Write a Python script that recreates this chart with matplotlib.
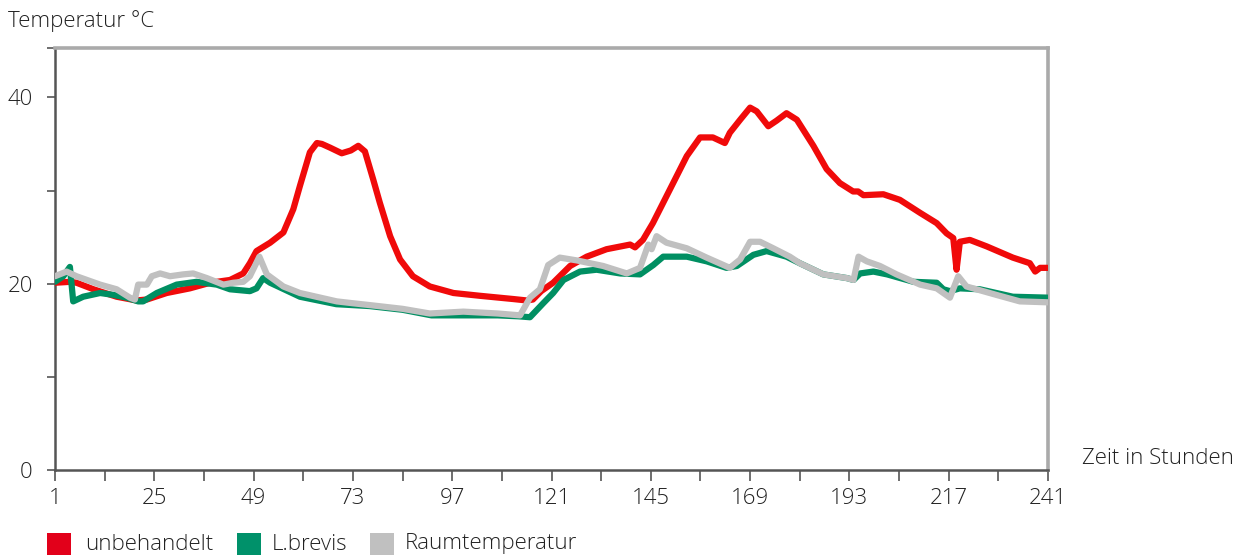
import matplotlib
matplotlib.use("Agg")
import matplotlib.pyplot as plt
from matplotlib.patches import Rectangle

plt.rcParams['font.family'] = ['Open Sans', 'DejaVu Sans']
plt.rcParams['font.weight'] = 'light'

# ---- data ----
red_h = [1, 4.6, 6.2, 10.3, 15.9, 20.7, 23.2, 28, 33.6, 38.5, 43.3, 46.5, 48.1, 49.7, 53, 56.2, 58.6,
         60.2, 62.6, 64.3, 65.5, 67.5, 70.3, 72.5, 74.3, 75.9, 77.9, 79.5, 82.0, 84.4, 87.5, 91.6,
         97.3, 103.7, 111.8, 115.0, 116.5, 118.5, 121.4, 125.5, 129.5, 134.3, 140.0, 141.2, 143.1,
         145.5, 149.6, 153.7, 156.9, 160.0, 162.9, 164.1, 166.6, 169.0, 170.6, 173.4, 175.4, 177.8,
         180.3, 184.3, 187.5, 190.7, 193.9, 195.1, 196.4, 201.2, 205.2, 210.1, 214.1, 216.5, 218.1,
         218.9, 219.7, 222.1, 226.2, 232.5, 236.6, 237.9, 239.1, 241]
red_t = [20.1, 20.2, 20.1, 19.4, 18.6, 18.2, 18.3, 19.0, 19.5, 20.1, 20.4, 21.1, 22.2, 23.5, 24.4, 25.5,
         28.0, 30.5, 34.1, 35.1, 35.0, 34.6, 34.0, 34.3, 34.8, 34.2, 31.2, 28.7, 25.1, 22.6, 20.8, 19.7,
         19.0, 18.7, 18.35, 18.2, 18.3, 19.2, 20.1, 21.9, 22.9, 23.7, 24.2, 23.9, 24.7, 26.5, 30.1,
         33.7, 35.7, 35.7, 35.1, 36.2, 37.6, 38.9, 38.5, 36.9, 37.5, 38.3, 37.6, 34.8, 32.3, 30.8,
         29.9, 29.9, 29.5, 29.6, 29.0, 27.6, 26.5, 25.4, 24.9, 21.5, 24.5, 24.7, 24.0, 22.8, 22.2,
         21.3, 21.7, 21.7]

green_h = [1, 3, 4.6, 5.4, 7.8, 11.9, 15.1, 18.3, 21.1, 22.3, 25.6, 30.4, 35.2, 40.1, 43.3, 48.1, 49.7,
           51.3, 53, 60.2, 69, 77, 85, 92, 100, 108, 113, 115.8, 119, 121.4, 123.9, 127.9, 131.9,
           137.6, 142.4, 145.6, 148, 153.7, 158.5, 163.3, 165.8, 169.8, 173, 177.8, 181, 186.7,
           192.4, 194, 195.6, 198.8, 202.1, 208.5, 214.1, 215.7, 217.3, 219.7, 224.5, 232.5, 241]
green_t = [20.2, 20.8, 21.8, 18.1, 18.6, 19.0, 18.8, 18.5, 18.1, 18.1, 19.0, 19.9, 20.2, 19.9, 19.4,
           19.2, 19.5, 20.6, 20.1, 18.6, 17.8, 17.6, 17.2, 16.6, 16.6, 16.6, 16.5, 16.4, 17.9, 19.0,
           20.4, 21.3, 21.5, 21.1, 21.0, 22.0, 22.9, 22.9, 22.4, 21.7, 21.9, 23.1, 23.5, 22.9, 22.2,
           21.0, 20.6, 20.4, 21.1, 21.3, 21.0, 20.2, 20.1, 19.4, 19.2, 19.5, 19.4, 18.6, 18.5]

grey_h = [1, 3.8, 6.2, 11.9, 15.9, 19.1, 20.3, 21.1, 23.2, 24.4, 26.4, 28.8, 32, 34.4, 37.7, 41.7, 44.1,
          46.5, 48.1, 50.4, 52.2, 56.2, 60.2, 69.1, 73, 77.1, 85, 91.6, 99.7, 108, 113.4, 115.8, 118.2,
          120.2, 123, 127.1, 133.5, 139.2, 142.4, 144.4, 145.2, 146.4, 148.8, 153.7, 158.5, 164.1,
          166.6, 169, 171.4, 174.6, 178.6, 181, 186.7, 192.4, 194, 195.2, 197.2, 200.4, 204.4, 210.1,
          214.1, 217.3, 219.3, 221.3, 228.5, 234.2, 241]
grey_t = [20.8, 21.3, 20.8, 19.9, 19.4, 18.5, 18.3, 19.9, 19.9, 20.8, 21.1, 20.8, 21.0, 21.1, 20.6, 19.9,
          20.1, 20.2, 20.8, 22.9, 21.0, 19.7, 19.0, 18.1, 17.9, 17.7, 17.3, 16.8, 17.0, 16.8, 16.6, 18.5,
          19.4, 22.0, 22.8, 22.5, 21.9, 21.1, 21.7, 24.2, 23.7, 25.1, 24.4, 23.8, 22.8, 21.7, 22.6,
          24.5, 24.5, 23.8, 22.9, 22.2, 21.0, 20.6, 20.4, 22.9, 22.4, 21.9, 21.0, 19.9, 19.5, 18.5,
          20.8, 19.7, 18.8, 18.1, 18.0]

series_names = ["unbehandelt", "L.brevis", "Raumtemperatur"]
series_colors = ["#f00a0a", "#008f62", "#c0c0c0"]
legend_colors = ["#e2001a", "#00916a", "#c0c0c0"]

x_major = list(range(1, 242, 24))
x_minor = list(range(13, 242, 24))
y_major = [0, 20, 40]
y_minor = [10, 30]

# ---- figure ----
fig = plt.figure(figsize=(12.53, 5.55), dpi=100)
ax = fig.add_axes([55 / 1253, 1 - 470 / 555, (1048 - 55) / 1253, (470 - 48) / 555])

ax.plot(red_h, red_t, color=series_colors[0], lw=4.5, solid_joinstyle='round', solid_capstyle='round', zorder=3)
ax.plot(green_h, green_t, color=series_colors[1], lw=4.5, solid_joinstyle='round', solid_capstyle='round', zorder=4)
ax.plot(grey_h, grey_t, color=series_colors[2], lw=4.5, solid_joinstyle='round', solid_capstyle='round', zorder=5)

ax.set_xlim(1, 241)
ax.set_ylim(0, 45.3)

ax.set_xticks(x_major)
ax.set_xticks(x_minor, minor=True)
ax.set_yticks(y_major)
ax.set_yticks(y_minor + [45.3], minor=True)

ax.tick_params(axis='x', which='both', direction='out', length=8, width=1.2, color='#555555',
               labelsize=16, labelcolor='#222222', pad=5)
ax.tick_params(axis='y', which='both', direction='out', length=6, width=1.2, color='#555555',
               labelsize=16, labelcolor='#222222', pad=10)

for s in ['left', 'bottom']:
    ax.spines[s].set_color('#555555')
    ax.spines[s].set_linewidth(1.8)
for s in ['top', 'right']:
    ax.spines[s].set_color('#aaaaaa')
    ax.spines[s].set_linewidth(2.6)

fig.text(8 / 1253, 1 - 21 / 555, "Temperatur °C", fontsize=16, color='#222222', va='center', ha='left')
fig.text(1082 / 1253, 1 - 459 / 555, "Zeit in Stunden", fontsize=16, color='#222222', va='center', ha='left')

# legend
sq_x = [47, 237, 370]
tx_x = [85, 272, 405]
for name, col, sx, tx in zip(series_names, legend_colors, sq_x, tx_x):
    fig.add_artist(Rectangle((sx / 1253, 0), 24 / 1253, 22 / 555, transform=fig.transFigure,
                             facecolor=col, edgecolor='none'))
    fig.text(tx / 1253, 1 - 544 / 555, name, fontsize=16, color='#222222', va='center', ha='left')

fig.savefig("out.png", dpi=100)
